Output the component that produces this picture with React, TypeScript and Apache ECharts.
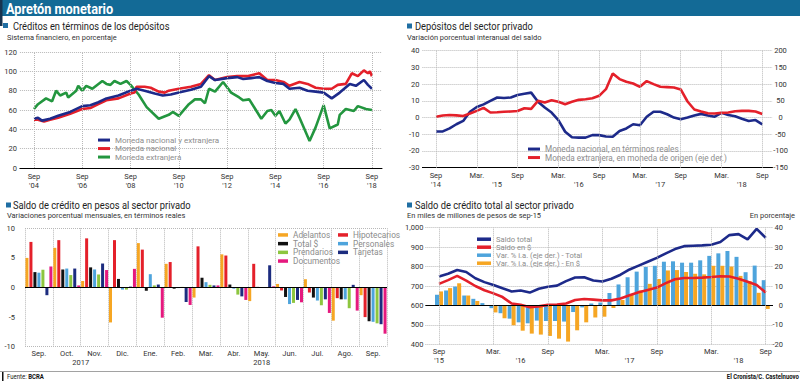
import React, { useEffect, useRef } from 'react';
import * as echarts from 'echarts';

const FONT = 'Roboto, "Noto Sans", sans-serif';
const GRID = '#b8b8b8';
const NAVY = '#1d2a8a';
const RED = '#e4202a';
const GREEN = '#23963f';
const ORANGE = '#f6a623';
const LIGHTBLUE = '#4ea4dc';
const LIME = '#8dc63f';
const PINK = '#e5197e';
const DARKNAVY = '#1c2c7f';

// ---------- Panel 1: Créditos en términos de los depósitos (months since Sep '04) ----------
const p1Start = 2004;
const p1Ticks = [0, 24, 48, 72, 96, 120, 144, 168];
const p1Total: [number, number][] = [[0,51],[2,52],[4,49],[8,51],[12,54],[18,58],[24,64],[28,65],[32,68],[36,72],[42,75],[48,80],[51,82],[55,80],[60,77],[64,75],[68,76],[72,78],[78,81],[83,84],[87,95],[90,91],[96,93],[101,94],[104,92],[108,93],[112,94],[116,90],[120,88],[124,87],[127,82],[132,83],[136,80],[140,79],[144,78],[148,72],[152,78],[157,87],[160,85],[164,91],[166,86],[168,82]];
const p1Nacional: [number, number][] = [[0,50],[2,50],[5,48],[8,50],[12,52],[18,56],[24,61],[28,62],[32,66],[36,70],[42,72],[48,77],[50,78],[51,84],[55,84],[58,83],[62,79],[65,78],[67,80],[72,82],[78,84],[83,87],[87,96],[90,91],[96,94],[101,95],[106,95],[112,98],[116,91],[120,91],[124,89],[127,85],[132,89],[136,87],[140,83],[144,82],[148,82],[151,86],[155,87],[158,98],[161,95],[164,101],[166,98],[167,100],[168,95]];
const p1Extranjera: [number, number][] = [[0,61],[2,66],[6,72],[9,69],[11,80],[13,75],[16,78],[17,73],[21,80],[22,85],[24,80],[26,85],[29,82],[34,90],[36,87],[38,86],[40,90],[43,87],[46,90],[48,86],[52,76],[56,63],[62,51],[67,55],[69,58],[72,54],[77,66],[80,71],[83,71],[85,67],[87,82],[90,79],[94,89],[98,78],[102,73],[104,70],[107,71],[113,51],[116,59],[118,60],[120,54],[122,59],[125,46],[127,50],[130,61],[132,52],[137,28],[140,42],[144,65],[147,41],[151,45],[152,55],[155,61],[159,59],[161,64],[165,61],[168,60]];

// ---------- Panel 2: Depósitos del sector privado (monthly, Sep '14 .. Sep '18) ----------
const p2Start = 2014;
const p2Ticks = [0, 6, 12, 18, 24, 30, 36, 42, 48];
const p2Nacional = [-8.3,-8.3,-6.5,-4,-2,3.5,6.3,7.9,10,12,11.7,12,13.5,14.2,14.9,9.5,6,3,-1.5,-8.5,-11.8,-12,-12,-10.5,-10.5,-11.3,-11.5,-8,-6.5,-4,-4.6,0.5,3.5,3.5,2,0,-1,0,1.2,2.2,1.2,0.5,2.8,1.5,0.8,-0.7,-2.1,-1.5,-4.1];
const p2Extranjera = [2.5,6,7.5,6.5,4.5,12,20,29,15,16,17.5,18,19.5,28,26,50,45,52,47,40,47,53,55,58,65,85,132,115,107,102,92,109,100,92,91,90,84,48,24,18,13,12,14,15,19,20,20,18,10.5];

// ---------- Panel 3: Saldo de crédito en pesos (monthly % change) ----------
const p3Months = ['Sep.','Oct.','Nov.','Dic.','Ene.','Feb.','Mar.','Abr.','May.','Jun.','Jul.','Ago.','Sep.'];
const p3YearLabels = ['2017', '2018'];
const p3YearCenters = [1.5, 8];
const p3Adelantos = [5.0, 6.7, 1.1, -5.9, 7.5, 4.0, -1.7, 5.6, -2.3, 0.6, 1.4, -5.6, -1.3];
const p3Hipotecarios = [7.7, 8.0, 8.3, 8.0, 6.4, 4.3, 6.95, 5.4, 4.0, -0.5, -0.85, -1.8, -5.0];
const p3Total = [2.6, 3.05, 3.4, 1.45, -0.55, -0.2, 1.65, 0.5, 0.1, -1.6, -1.7, -2.0, -5.7];
const p3Personales = [2.5, 3.2, 3.05, -0.35, 2.25, -0.1, 0.9, -0.2, 0.05, -2.8, -2.2, -2.0, -5.8];
const p3Prendarios = [3.0, 2.1, 2.2, -0.35, 0.35, 0.1, 0.45, -1.2, 0.05, -2.6, -3.0, -3.5, -6.05];
const p3Tarjetas = [-1.3, 3.2, 4.05, 0.15, 0.5, -2.45, 0.35, -1.5, 3.75, -2.1, -2.0, 0.45, -6.2];
const p3Documentos = [3.55, 0.35, 2.95, 3.15, -5.1, -2.95, 0.35, -2.1, 0.2, -2.5, -4.3, -3.9, -7.8];

// ---------- Panel 4: Saldo de crédito total (monthly, Sep '15 .. Sep '18) ----------
const p4Start = 2015;
const p4Ticks = [0, 6, 12, 18, 24, 30, 36];
const p4SaldoTotal = [749,763,782,772,740,720,705,688,672,677,666,686,696,702,725,744,745,728,723,737,758,785,805,825,845,868,890,905,907,909,912,926,962,967,940,994,948];
const p4SaldoPesos = [711,730,752,728,700,678,662,643,610,603,591,595,603,605,610,628,633,630,626,626,636,652,668,680,692,715,735,741,741,743,746,750,749,737,722,705,666];
const p4VarTotal = [5.5,7.7,9.7,5.1,3.4,1.2,-1.4,-4,-6.8,-8.7,-9.2,-7.8,-8,-8,-8.3,-3.4,-1,1,1.5,6.4,10.8,14.5,17.4,19.8,20.4,22.5,22.7,22,22,23.2,25.5,26.8,28,25,17.1,20.5,13];
const p4VarPesos = [7.2,8.9,11.4,5.1,2.3,-0.2,-3.6,-6.6,-10.2,-13,-14.5,-15,-15.7,-17.1,-18.6,-12.8,-8.7,-6.2,-5.8,-1.3,2.8,5.5,7.7,11.1,13.6,18,18.2,17.2,16.3,16,20.4,20.4,20,15.2,12.5,6.5,-1.8];

const yy = (y: number) => "'" + String(y).slice(2);
const p1Label = (v: number) =>
  Number.isInteger(v) && p1Ticks.includes(v) ? `Sep\n${yy(p1Start + v / 12)}` : '';
function halfYearLabel(startYear: number, last: number) {
  return (v: number) => {
    if (!Number.isInteger(v) || v < 0 || v > last) return '';
    if (v === 0) return `Sep\n${yy(startYear)}`;
    if (v % 12 === 0) return 'Sep';
    if (v % 12 === 6) return 'Mar.';
    if (v % 12 === 9) return `\n${yy(startYear + (v + 3) / 12)}`;
    return '';
  };
}

const axisText = { color: '#333', fontFamily: FONT, fontSize: 7.5 };
const dottedSplit = { show: true, lineStyle: { type: 'dotted', color: GRID, width: 1 } };
const vLines = (ticks: number[]) => ({
  silent: true,
  symbol: ['none', 'none'],
  label: { show: false },
  lineStyle: { type: 'dotted', color: GRID, width: 1 },
  data: ticks.map((t) => ({ xAxis: t })),
});
const hLine = (vals: number[], color: string, type: string) => ({
  silent: true,
  symbol: ['none', 'none'],
  label: { show: false },
  lineStyle: { type, color, width: 1 },
  data: vals.map((v) => ({ yAxis: v })),
});
const legendText = { color: '#8c8c8c', fontFamily: FONT, fontSize: 8, lineHeight: 8.5 };

const pairs = (arr: number[]) => arr.map((v, i) => [i, v]);

const titleText = (x: number, y: number, text: string, sx: number) => ({
  type: 'text', x, y, scaleX: sx,
  style: { text, fontSize: 11.5, fontFamily: FONT, fill: '#1e1e1e', verticalAlign: 'middle', align: 'left' },
});
const subText = (x: number, y: number, text: string, sx: number, align = 'left') => ({
  type: 'text', x, y, scaleX: sx,
  style: { text, fontSize: 8, fontFamily: FONT, fill: '#333', verticalAlign: 'middle', align },
});
const square = (x: number, y: number) => ({ type: 'rect', shape: { x, y, width: 5, height: 5 }, style: { fill: '#1f6ea3' } });

export default function App() {
  const ref = useRef<HTMLDivElement>(null);
  useEffect(() => {
    const chart = echarts.init(ref.current!, null, { renderer: 'svg' });
    const option: any = {
      animation: false,
      backgroundColor: '#fff',
      grid: [
        { left: 19.9, top: 52, width: 362.1, height: 116, outerBoundsMode: 'none' },
        { left: 422.4, top: 50.7, width: 350.1, height: 117, outerBoundsMode: 'none' },
        { left: 25, top: 228.3, width: 362, height: 118.4, outerBoundsMode: 'none' },
        { left: 425.4, top: 227.7, width: 347.6, height: 116.6, outerBoundsMode: 'none' },
      ],
      xAxis: [
        { gridIndex: 0, type: 'value', min: -7, max: 173, interval: 1,
          axisLine: { show: true, onZero: false, lineStyle: { color: '#000', width: 1 } }, axisTick: { show: false }, splitLine: { show: false },
          axisLabel: { ...axisText, margin: 4, lineHeight: 9, formatter: p1Label, showMinLabel: true, showMaxLabel: true } },
        { gridIndex: 1, type: 'value', min: -2, max: 49.5, interval: 1,
          axisLine: { show: true, onZero: false, lineStyle: { color: '#000', width: 1 } }, axisTick: { show: false }, splitLine: { show: false },
          axisLabel: { ...axisText, margin: 3, lineHeight: 9, formatter: halfYearLabel(p2Start, 48) } },
        { gridIndex: 2, type: 'category', data: p3Months,
          axisLine: { show: false, onZero: false }, axisTick: { show: false },
          splitLine: { show: true, interval: 0, lineStyle: { type: 'dotted', color: GRID, width: 1 } },
          axisLabel: { ...axisText, margin: 3, interval: 0 } },
        { gridIndex: 2, type: 'value', min: -0.5, max: 12.5, interval: 0.5, position: 'bottom',
          axisLine: { show: false, onZero: false }, axisTick: { show: false }, splitLine: { show: false },
          axisLabel: { ...axisText, margin: 12, formatter: (v: number) => { const i = p3YearCenters.indexOf(v); return i >= 0 ? p3YearLabels[i] : ''; } } },
        { gridIndex: 3, type: 'value', min: -1.5, max: 36.8, interval: 0.5,
          axisLine: { show: false, onZero: false }, axisTick: { show: false }, splitLine: { show: false },
          axisLabel: { ...axisText, margin: 3, lineHeight: 8.5, formatter: halfYearLabel(p4Start, 36) } },
      ],
      yAxis: [
        { gridIndex: 0, type: 'value', min: 0, max: 120, interval: 20, axisLine: { show: false }, axisTick: { show: false },
          splitLine: dottedSplit, axisLabel: { ...axisText, margin: 3 } },
        { gridIndex: 1, type: 'value', min: -30, max: 40, interval: 10, axisLine: { show: false }, axisTick: { show: false },
          splitLine: dottedSplit, axisLabel: { ...axisText, margin: 3 } },
        { gridIndex: 1, type: 'value', position: 'right', min: -150, max: 200, interval: 50, axisLine: { show: false }, axisTick: { show: false },
          splitLine: { show: false }, axisLabel: { ...axisText, margin: 8, align: 'center' } },
        { gridIndex: 2, type: 'value', min: -10, max: 10, interval: 5, axisLine: { show: false }, axisTick: { show: false },
          splitLine: { show: false }, axisLabel: { ...axisText, margin: 10 } },
        { gridIndex: 3, type: 'value', min: 400, max: 1000, interval: 100, axisLine: { show: false }, axisTick: { show: false },
          splitLine: dottedSplit, axisLabel: { ...axisText, margin: 2 } },
        { gridIndex: 3, type: 'value', position: 'right', min: -20, max: 40, interval: 10, axisLine: { show: false }, axisTick: { show: false },
          splitLine: { show: false }, axisLabel: { ...axisText, margin: 10, align: 'right' } },
      ],
      legend: [
        { orient: 'vertical', left: 98, top: 135.8, padding: 0, itemGap: 0, itemWidth: 12, itemHeight: 3, icon: 'rect', selectedMode: false,
          textStyle: legendText, data: ['Moneda nacional y extranjera', 'Moneda nacional', 'Moneda extranjera'] },
        { orient: 'vertical', left: 528, top: 144.8, padding: 0, itemGap: 0, itemWidth: 12, itemHeight: 3, icon: 'rect', selectedMode: false,
          textStyle: { ...legendText, fontSize: 8.2 }, data: ['Moneda nacional, en términos reales', 'Moneda extranjera, en moneda de origen (eje der.)'] },
        { orient: 'vertical', left: 278, top: 230.6, padding: 0, itemGap: 0, itemWidth: 10, itemHeight: 3.5, icon: 'rect', selectedMode: false,
          textStyle: { ...legendText, fontSize: 8.3, lineHeight: 8.7 }, data: ['Adelantos', 'Total $', 'Prendarios', 'Documentos'] },
        { orient: 'vertical', left: 338, top: 230.6, padding: 0, itemGap: 0, itemWidth: 10, itemHeight: 3.5, icon: 'rect', selectedMode: false,
          textStyle: { ...legendText, fontSize: 8.3, lineHeight: 8.7 }, data: ['Hipotecarios', 'Personales', 'Tarjetas'] },
        { orient: 'vertical', left: 477, top: 235.2, padding: 0, itemGap: 0, itemWidth: 14, itemHeight: 3.5, icon: 'rect', selectedMode: false,
          textStyle: { ...legendText, fontSize: 7.6, lineHeight: 7.6 },
          data: ['Saldo total', 'Saldo en $', 'Var. % i.a. (eje der.) - Total', 'Var. % i.a. (eje der.) - En $'] },
      ],
      series: [
        // Panel 1
        { name: 'Moneda extranjera', type: 'line', xAxisIndex: 0, yAxisIndex: 0, data: p1Extranjera, showSymbol: false,
          lineStyle: { color: GREEN, width: 2.6 }, itemStyle: { color: GREEN }, markLine: vLines(p1Ticks) },
        { name: 'Moneda nacional', type: 'line', xAxisIndex: 0, yAxisIndex: 0, data: p1Nacional, showSymbol: false,
          lineStyle: { color: RED, width: 2.6 }, itemStyle: { color: RED } },
        { name: 'Moneda nacional y extranjera', type: 'line', xAxisIndex: 0, yAxisIndex: 0, data: p1Total, showSymbol: false,
          lineStyle: { color: NAVY, width: 2.6 }, itemStyle: { color: NAVY } },
        // Panel 2
        { name: 'Moneda nacional, en términos reales', type: 'line', xAxisIndex: 1, yAxisIndex: 1, data: pairs(p2Nacional), showSymbol: false,
          lineStyle: { color: NAVY, width: 2.6 }, itemStyle: { color: NAVY }, markLine: vLines(p2Ticks) },
        { name: 'Moneda extranjera, en moneda de origen (eje der.)', type: 'line', xAxisIndex: 1, yAxisIndex: 2, data: pairs(p2Extranjera), showSymbol: false,
          lineStyle: { color: RED, width: 2.6 }, itemStyle: { color: RED } },
        // Panel 3
        ...[
          ['Adelantos', p3Adelantos, ORANGE],
          ['Hipotecarios', p3Hipotecarios, RED],
          ['Total $', p3Total, '#111'],
          ['Personales', p3Personales, LIGHTBLUE],
          ['Prendarios', p3Prendarios, LIME],
          ['Tarjetas', p3Tarjetas, DARKNAVY],
          ['Documentos', p3Documentos, PINK],
        ].map(([name, data, color], i) => ({
          name, type: 'bar', xAxisIndex: 2, yAxisIndex: 3, data, barWidth: 3, barGap: '33%',
          itemStyle: { color },
          ...(i === 0 ? { markLine: { ...hLine([0], '#000', 'solid'), data: [{ yAxis: 0, lineStyle: { type: 'solid', color: '#000' } }, { yAxis: 10, lineStyle: { type: 'dotted', color: GRID } }, { yAxis: -10, lineStyle: { type: 'dotted', color: GRID } }] } } : {}),
        })),
        // Panel 4
        { name: 'Var. % i.a. (eje der.) - Total', type: 'bar', xAxisIndex: 4, yAxisIndex: 5, data: pairs(p4VarTotal), barWidth: 4, barGap: '0%',
          itemStyle: { color: LIGHTBLUE }, markLine: hLine([0], '#000', 'solid') },
        { name: 'Var. % i.a. (eje der.) - En $', type: 'bar', xAxisIndex: 4, yAxisIndex: 5, data: pairs(p4VarPesos), barWidth: 4, barGap: '0%',
          itemStyle: { color: ORANGE } },
        { name: 'Saldo en $', type: 'line', xAxisIndex: 4, yAxisIndex: 4, data: pairs(p4SaldoPesos), showSymbol: false,
          lineStyle: { color: RED, width: 2.6 }, itemStyle: { color: RED }, markLine: vLines(p4Ticks) },
        { name: 'Saldo total', type: 'line', xAxisIndex: 4, yAxisIndex: 4, data: pairs(p4SaldoTotal), showSymbol: false,
          lineStyle: { color: NAVY, width: 2.6 }, itemStyle: { color: NAVY } },
      ],
      graphic: [
        { type: 'rect', shape: { x: 0, y: 0, width: 800, height: 16 }, style: { fill: '#136a96' } },
        { type: 'rect', shape: { x: 0, y: 0, width: 2.5, height: 26 }, style: { fill: '#17344f' } },
        { type: 'text', x: 6, y: 8.5, scaleX: 0.85,
          style: { text: 'Apretón monetario', fontSize: 15, fontWeight: 'bold', fontFamily: FONT, fill: '#fff', verticalAlign: 'middle', align: 'left' } },
        square(3, 23), titleText(13, 25.8, 'Créditos en términos de los depósitos', 0.81),
        subText(7, 37.8, 'Sistema financiero, en porcentaje', 0.93),
        square(407, 23.5), titleText(415, 26, 'Depósitos del sector privado', 0.81),
        subText(407, 37.8, 'Variación porcentual interanual del saldo', 0.93),
        square(6, 202.5), titleText(13, 205, 'Saldo de crédito en pesos al sector privado', 0.81),
        subText(7, 215.7, 'Variaciones porcentual mensuales, en términos reales', 0.93),
        square(407, 202.5), titleText(415, 205, 'Saldo de crédito total al sector privado', 0.81),
        subText(407, 215.7, 'En miles de millones de pesos de sep-15', 0.93),
        subText(795, 215.7, 'En porcentaje', 0.93, 'right'),
        { type: 'line', shape: { x1: 0, y1: 371.5, x2: 800, y2: 371.5 }, style: { stroke: '#8a8a8a', lineWidth: 0.8 } },
        { type: 'rect', shape: { x: 2, y: 372, width: 1.5, height: 9 }, style: { fill: '#111' } },
        { type: 'text', x: 7, y: 377, scaleX: 0.86,
          style: { text: '{a|Fuente: }{b|BCRA}', fontFamily: FONT, fontSize: 7, fill: '#222', verticalAlign: 'middle', align: 'left',
            rich: { a: { fontFamily: FONT, fontSize: 7, fill: '#222' }, b: { fontFamily: FONT, fontSize: 7, fontWeight: 'bold', fill: '#111' } } } },
        { type: 'text', x: 799, y: 377, scaleX: 0.86,
          style: { text: 'El Cronista/C. Castelnuovo', fontFamily: FONT, fontSize: 7, fontWeight: 'bold', fill: '#111', verticalAlign: 'middle', align: 'right' } },
      ],
    };
    chart.setOption(option);
    return () => chart.dispose();
  }, []);
  return <div ref={ref} style={{ position: 'absolute', left: 0, top: 0, width: 800, height: 381, background: '#fff' }} />;
}
